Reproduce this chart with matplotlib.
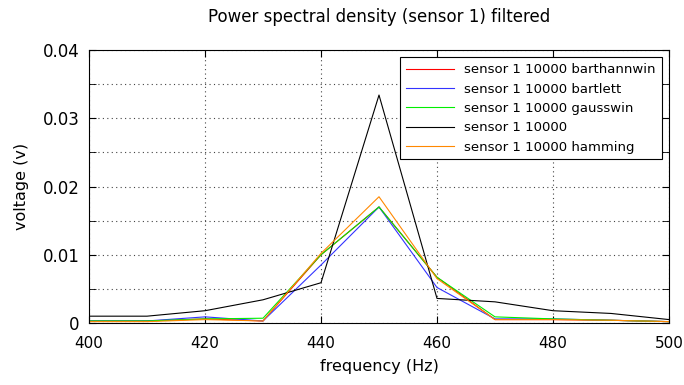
import numpy as np
import matplotlib

matplotlib.use("Agg")
import matplotlib.pyplot as plt
from matplotlib.ticker import MultipleLocator, FuncFormatter

freq = [400, 410, 420, 430, 440, 450, 460, 470, 480, 490, 500]

barthannwin = [0.0003, 0.0003, 0.0006, 0.0003, 0.0100, 0.0170, 0.0067, 0.0005, 0.0005, 0.0004, 0.0002]
bartlett = [0.0003, 0.0003, 0.0009, 0.0003, 0.0085, 0.0170, 0.0052, 0.0006, 0.0006, 0.0004, 0.0002]
gausswin = [0.0003, 0.0003, 0.0006, 0.0007, 0.0100, 0.0170, 0.0067, 0.0009, 0.0006, 0.0004, 0.0002]
raw = [0.0010, 0.0010, 0.0018, 0.0034, 0.0059, 0.0334, 0.0036, 0.0031, 0.0018, 0.0014, 0.0005]
hamming = [0.0002, 0.0002, 0.0005, 0.0003, 0.0102, 0.0185, 0.0065, 0.0005, 0.0005, 0.0004, 0.0002]

series = [
    ("sensor 1 10000 barthannwin", barthannwin, "#ff0000"),
    ("sensor 1 10000 bartlett", bartlett, "#3333ff"),
    ("sensor 1 10000 gausswin", gausswin, "#00ee00"),
    ("sensor 1 10000", raw, "#000000"),
    ("sensor 1 10000 hamming", hamming, "#ff8800"),
]

plt.rcParams["font.family"] = ["DejaVu Sans"]

fig = plt.figure(figsize=(6.84, 3.85), dpi=100)
ax = fig.add_axes([89 / 684, 62 / 385, 580 / 684, 273 / 385])

for label, vals, color in series:
    ax.plot(freq, vals, color=color, lw=0.8, label=label)

ax.set_xlim(400, 500)
ax.set_ylim(0, 0.04)
ax.xaxis.set_major_locator(MultipleLocator(20))
ax.yaxis.set_major_locator(MultipleLocator(0.01))
ax.yaxis.set_minor_locator(MultipleLocator(0.005))
ax.yaxis.set_major_formatter(FuncFormatter(lambda v, p: "0" if v == 0 else "%g" % v))
ax.tick_params(which="both", direction="in", top=True, right=True, length=5)
ax.tick_params(axis="x", labelsize=11, pad=9)
ax.tick_params(axis="y", labelsize=12, pad=7)
ax.grid(True, which="both", linestyle=(0, (1, 3)), color="#444444", lw=0.8)

ax.set_title("Power spectral density (sensor 1) filtered", fontsize=12, pad=20)
ax.set_xlabel("frequency (Hz)", fontsize=11.5, labelpad=6)
ax.set_ylabel("voltage (v)", fontsize=11.5, labelpad=10)

leg = ax.legend(loc="upper right", fontsize=9.5, fancybox=False, framealpha=1,
                edgecolor="black", borderaxespad=0.55, handlelength=3.6,
                labelspacing=0.48, borderpad=0.45)
leg.get_frame().set_linewidth(0.8)

fig.savefig("out.png", dpi=100, facecolor="white")
